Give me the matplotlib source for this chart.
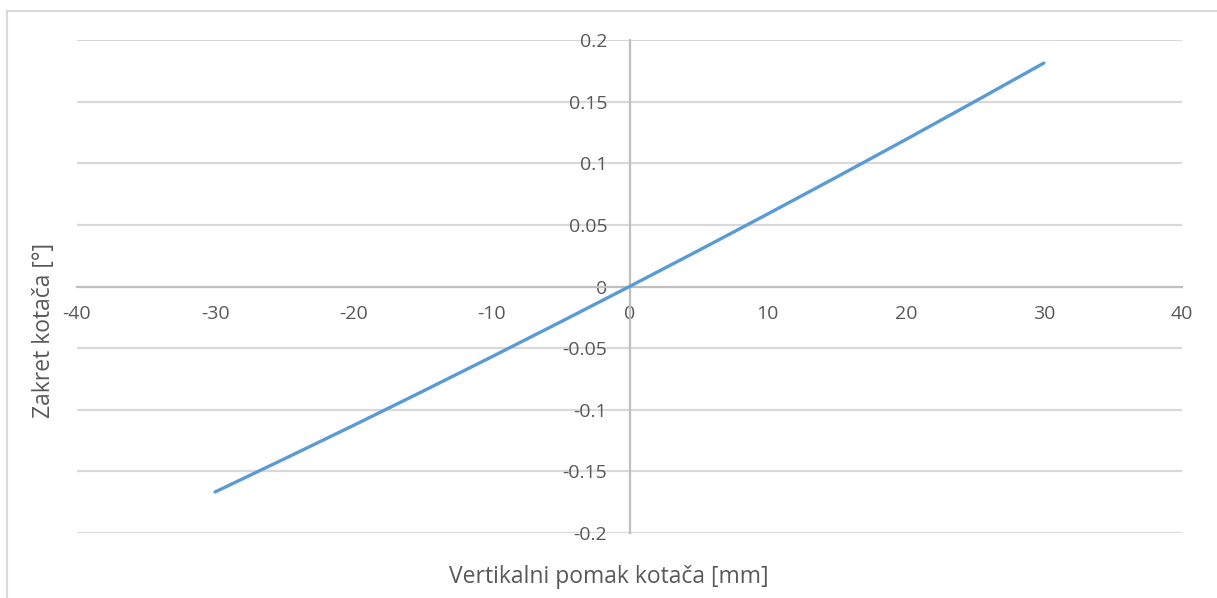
import matplotlib
matplotlib.use("Agg")
import matplotlib.pyplot as plt
from matplotlib.lines import Line2D

# Data
displacement_mm = [-30, -25, -20, -15, -10, -5, 0, 5, 10, 15, 20, 25, 30]
rotation_deg = [-0.1667, -0.1399, -0.1128, -0.0852, -0.0572, -0.0288, 0.0,
                0.0292, 0.0588, 0.0888, 0.1192, 0.1501, 0.1813]
x_ticks = [-40, -30, -20, -10, 0, 10, 20, 30, 40]
y_ticks = [-0.2, -0.15, -0.1, -0.05, 0, 0.05, 0.1, 0.15, 0.2]
y_tick_labels = ["-0.2", "-0.15", "-0.1", "-0.05", "0", "0.05", "0.1", "0.15", "0.2"]
x_label = "Vertikalni pomak kotača [mm]"
y_label = "Zakret kotača [°]"

W, H = 1217, 598
plt.rcParams['font.family'] = ['Open Sans', 'DejaVu Sans']
text_col = "#595959"
grid_col = "#d9d9d9"
axis_col = "#bfbfbf"

fig = plt.figure(figsize=(W / 100, H / 100), dpi=100)
ax = fig.add_axes([77 / W, 1 - 533 / H, (1182 - 77) / W, (533 - 40) / H])

ax.set_xlim(-40, 40)
ax.set_ylim(-0.2, 0.2)

for yv in y_ticks:
    if yv != 0:
        ax.axhline(yv, color=grid_col, lw=1.6, zorder=1)

for s in ["top", "right"]:
    ax.spines[s].set_visible(False)
ax.spines["left"].set_position(("data", 0))
ax.spines["bottom"].set_position(("data", 0))
for s in ["left", "bottom"]:
    ax.spines[s].set_color(axis_col)
    ax.spines[s].set_linewidth(1.6)

ax.plot(displacement_mm, rotation_deg, color="#5b9bd5", lw=2.4,
        solid_capstyle="round", zorder=3)

ax.set_xticks(x_ticks)
ax.set_xticklabels([str(v) for v in x_ticks])
ax.set_yticks(y_ticks)
ax.set_yticklabels(y_tick_labels)
ax.tick_params(axis="both", length=0, labelsize=14, colors=text_col)
ax.tick_params(axis="x", pad=13)
ax.tick_params(axis="y", pad=16)

fig.text(609 / W, 1 - 577 / H, x_label, ha="center", va="center",
         fontsize=16.5, color=text_col)
fig.text(44 / W, 1 - 330 / H, y_label, ha="center", va="center",
         rotation=90, fontsize=16.5, color=text_col)

# chart area border
fig.add_artist(Line2D([7 / W, 7 / W], [0, 1 - 11 / H], transform=fig.transFigure,
                      color=grid_col, lw=1.5))
fig.add_artist(Line2D([7 / W, 1], [1 - 11 / H, 1 - 11 / H], transform=fig.transFigure,
                      color=grid_col, lw=1.5))

fig.savefig("out.png", dpi=100, facecolor="white")
